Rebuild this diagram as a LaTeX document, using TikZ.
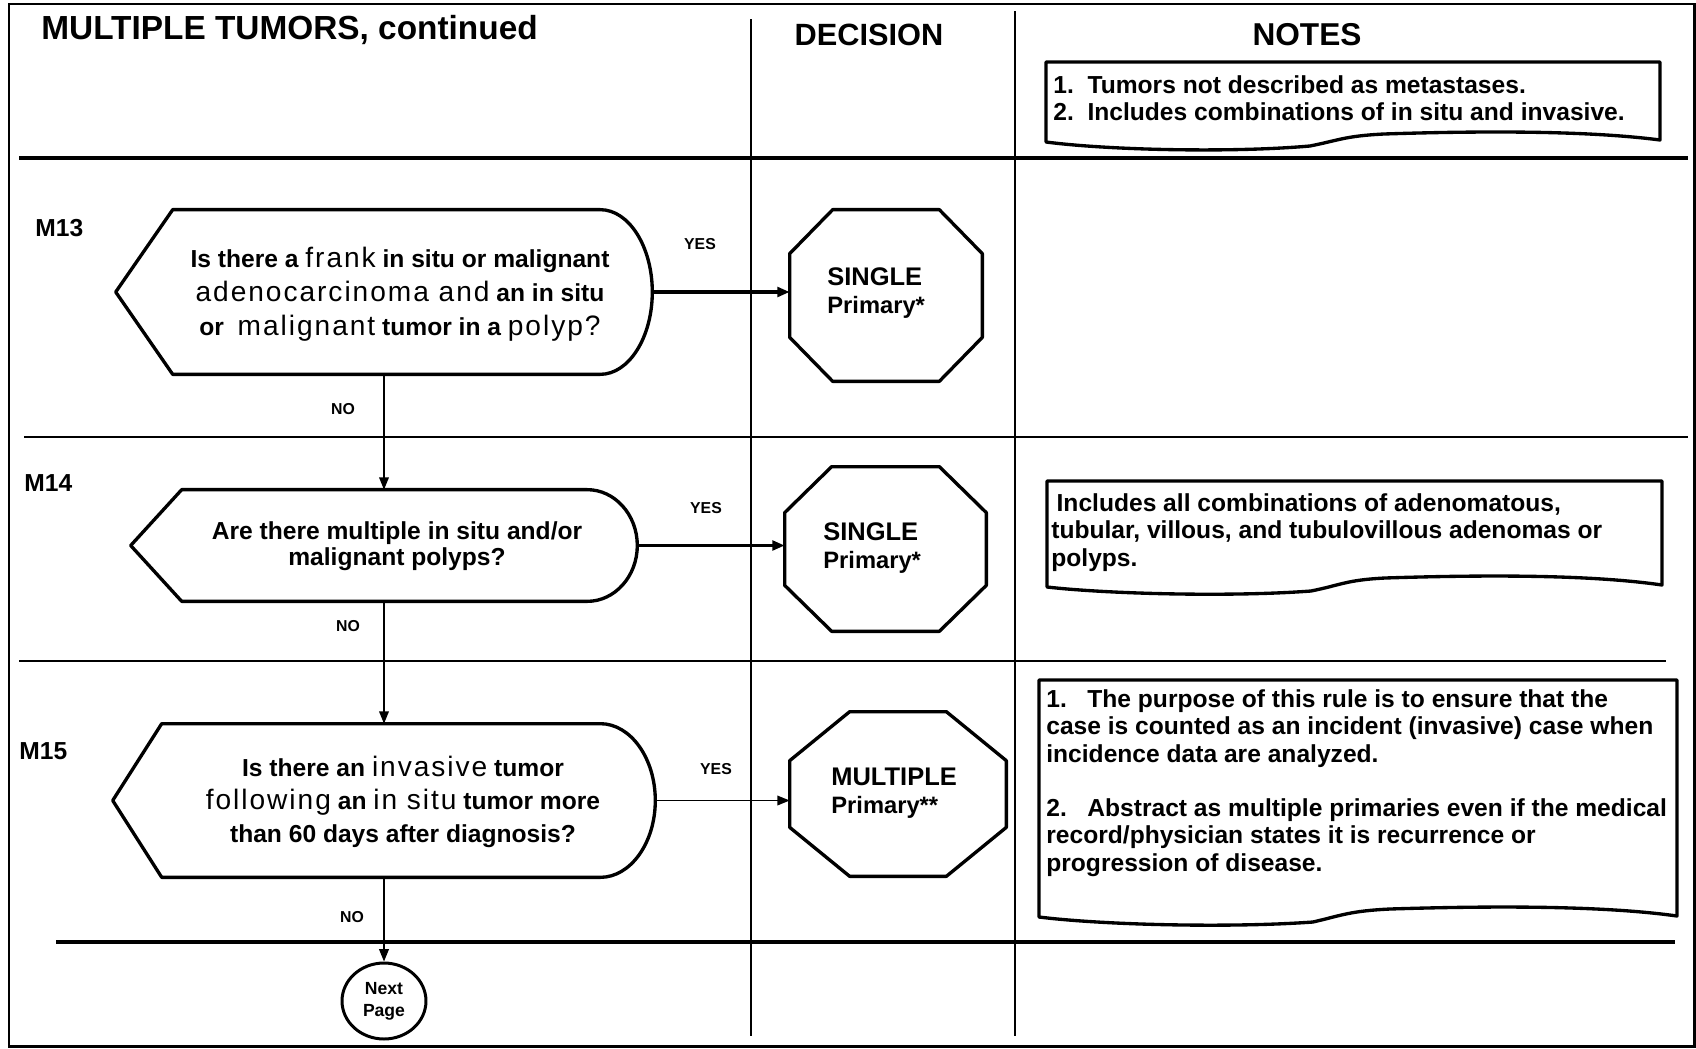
\documentclass[tikz,border=0pt]{standalone}
\usepackage{fontspec}
\setmainfont{Liberation Sans}
\newfontfamily\widefont[LetterSpace=7]{Liberation Sans}
\usetikzlibrary{arrows.meta,calc,shapes.geometric}
\newcommand{\fsb}[2]{\fontsize{#1}{#2}\selectfont\bfseries}
\newcommand{\spacedword}[1]{{\widefont\mdseries\fontsize{16}{19}\selectfont #1}}
\newcommand{\drawdecision}[3]{%
  \draw[shp] (#1.west) -- ($(#1.north west)+(#2,0)$) -- ($(#1.north east)+(-#3,0)$)
    .. controls ($(#1.north east)+(-0.45*#3,0)$) and ($(#1.east)!0.55!(#1.north east)$) .. (#1.east)
    .. controls ($(#1.east)!0.55!(#1.south east)$) and ($(#1.south east)+(-0.45*#3,0)$) .. ($(#1.south east)+(-#3,0)$)
    -- ($(#1.south west)+(#2,0)$) -- cycle;}
\newcommand{\drawoct}[3]{%
  \draw[shp] ($(#1.north west)+(#2,0)$) -- ($(#1.north east)+(-#2,0)$) -- ($(#1.north east)+(0,#3)$)
    -- ($(#1.south east)+(0,-#3)$) -- ($(#1.south east)+(-#2,0)$) -- ($(#1.south west)+(#2,0)$)
    -- ($(#1.south west)+(0,-#3)$) -- ($(#1.north west)+(0,#3)$) -- cycle;}
\begin{document}
\begin{tikzpicture}[x=0.02cm,y=-0.02cm,
  frame/.style={line width=1.7pt},
  divider/.style={line width=1.4pt},
  rowline/.style={line width=1.5pt},
  shp/.style={line width=1.9pt, line join=round},
  notebox/.style={line width=1.9pt, line join=round},
  box/.style={draw=none, inner sep=0pt},
  dtext/.style={align=center, inner sep=0pt},
  otext/.style={align=left, inner sep=0pt, anchor=west, font=\fsb{14}{16}},
  ntext/.style={align=left, inner sep=0pt, anchor=north west, font=\fsb{14}{15.6}},
  lbl/.style={inner sep=0pt, font=\fsb{9}{11}},
  mlbl/.style={inner sep=0pt, anchor=west, font=\fsb{14}{16}},
  arr/.style={-{Triangle[length=7pt,width=5.5pt]}},
  yesthick/.style={arr, line width=2.2pt},
  thinarr/.style={arr, line width=0.8pt}]
\useasboundingbox (0,0) rectangle (1696,1048);
% frame and grid
\draw[frame] (9,4) rectangle (1694,1046);
\draw[divider] (751,19) -- (751,1036);
\draw[divider] (1015,11) -- (1015,1036);
\draw[rowline, line width=1.8pt] (19,158) -- (1688,158);
\draw[rowline] (24,437) -- (1688,437);
\draw[rowline, line width=1.1pt] (19,661) -- (1666,661);
\draw[rowline, line width=1.8pt] (56,942) -- (1675,942);
% headers
\node[inner sep=0pt, anchor=west, font=\fsb{19}{21}] (h1) at (41,30) {MULTIPLE TUMORS, continued};
\node[inner sep=0pt, font=\fsb{17.5}{20}] (h2) at (869,35) {DECISION};
\node[inner sep=0pt, font=\fsb{18}{20}] (h3) at (1307,35) {NOTES};
% rule labels
\node[mlbl] (m13) at (35,228) {M13};
\node[mlbl] (m14) at (24,483) {M14};
\node[mlbl] (m15) at (19,751) {M15};
% decision shapes
\node[box, minimum width=10.72cm, minimum height=3.28cm] (d1) at (384,292) {};
\node[box, minimum width=10.12cm, minimum height=2.22cm] (d2) at (384,545.5) {};
\node[box, minimum width=10.84cm, minimum height=3.06cm] (d3) at (384,800.5) {};
\drawdecision{d1}{57}{52}
\drawdecision{d2}{51}{50}
\drawdecision{d3}{49}{55}
\node[dtext, font=\fsb{14}{19.3}] (d1t) at (400,294) {Is there a \spacedword{frank} in situ or malignant\\\spacedword{adenocarcinoma and} an in situ\\or \ \spacedword{malignant} tumor in a \spacedword{polyp?}};
\node[dtext, font=\fsb{14}{14.8}] (d2t) at (397,546) {Are there multiple in situ and/or\\malignant polyps?};
\node[dtext, font=\fsb{14}{19}] (d3t) at (403,802) {Is there an \spacedword{invasive} tumor\\\spacedword{following} an \spacedword{in situ} tumor more\\than 60 days after diagnosis?};
% octagons
\node[box, minimum width=3.84cm, minimum height=3.42cm] (o1) at (886,295.5) {};
\node[box, minimum width=4.02cm, minimum height=3.28cm] (o2) at (885.5,549) {};
\node[box, minimum width=4.32cm, minimum height=3.28cm] (o3) at (898,794) {};
\drawoct{o1}{43}{44}
\drawoct{o2}{47}{46}
\drawoct{o3}{60}{49}
\node[otext] (o1t) at (827,293) {\fontsize{14.5}{16}\selectfont SINGLE\\\fontsize{13.5}{16}\selectfont Primary*};
\node[otext] (o2t) at (823,548) {\fontsize{14.5}{16}\selectfont SINGLE\\\fontsize{13.5}{16}\selectfont Primary*};
\node[otext] (o3t) at (831,793) {\fontsize{14.5}{16}\selectfont MULTIPLE\\\fontsize{13.5}{16}\selectfont Primary**};
% next page
\node[draw, ellipse, line width=1.7pt, minimum width=1.68cm, minimum height=1.52cm, inner sep=0pt, align=center, font=\fsb{10}{12.3}] (np) at (384,1001) {Next\\Page};
% connectors
\draw[yesthick] (d1.east) -- (d1.east -| o1.west);
\draw[yesthick] (d2.east) -- (d2.east -| o2.west);
\draw[thinarr] (d3.east) -- (d3.east -| o3.west);
\draw[thinarr] (d1.south) -- (d2.north);
\draw[thinarr] (d2.south) -- (d3.north);
\draw[thinarr] (d3.south) -- (np.north);
% yes / no labels
\node[lbl] (y1) at (700,244) {YES};
\node[lbl] (y2) at (706,508) {YES};
\node[lbl] (y3) at (716,769) {YES};
\node[lbl] (n1) at (343,409) {NO};
\node[lbl] (n2) at (348,626) {NO};
\node[lbl] (n3) at (352,917) {NO};
% note boxes
\draw[notebox] (1660,62) -- (1046,62) -- (1046,142) .. controls (1107,150) and (1230,153) .. (1310,146) .. controls (1340,140) and (1345,136) .. (1384,134) .. controls (1506,130) and (1599,132) .. (1660,140) -- cycle;
\draw[notebox] (1662,481) -- (1047,481) -- (1047,587) .. controls (1108,594) and (1232,597) .. (1311,591) .. controls (1341,585) and (1346,580) .. (1385,578) .. controls (1508,574) and (1600,576) .. (1662,585) -- cycle;
\draw[notebox] (1677,680) -- (1039,680) -- (1039,917) .. controls (1103,925) and (1230,928) .. (1313,922) .. controls (1343,915) and (1350,911) .. (1390,909) .. controls (1517,905) and (1613,907) .. (1677,916) -- cycle;
\node[ntext] (nt1) at (1053,75) {1.\ \ Tumors not described as metastases.\\2.\ \ Includes combinations of in situ and invasive.};
\node[ntext] (nt2) at (1051,493) {\hspace{3pt}Includes all combinations of adenomatous,\\tubular, villous, and tubulovillous adenomas or\\polyps.};
\node[ntext] (nt3) at (1046,689) {1.\ \ \ The purpose of this rule is to ensure that the\\case is counted as an incident (invasive) case when\\incidence data are analyzed.\\[15.3pt]2.\ \ \ Abstract as multiple primaries even if the medical\\record/physician states it is recurrence or\\progression of disease.};
\end{tikzpicture}
\end{document}
